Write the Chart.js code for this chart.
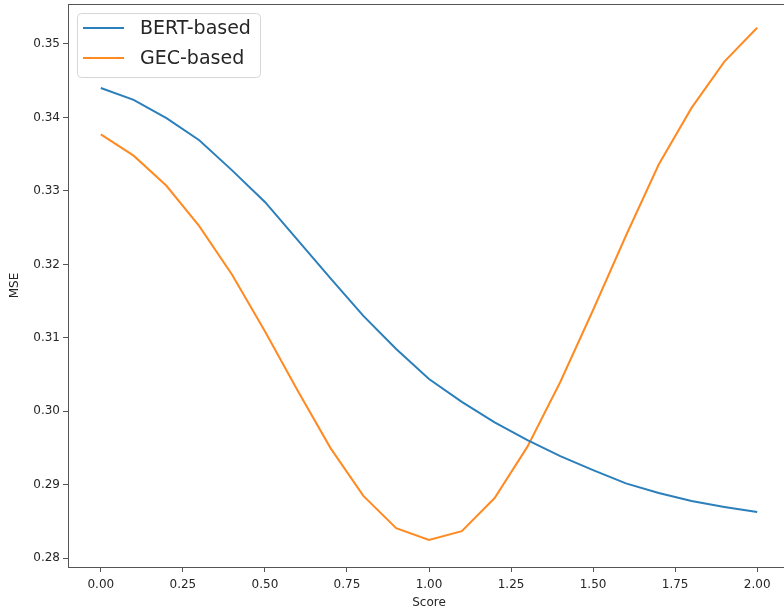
<!DOCTYPE html>
<html>
<head>
<meta charset="utf-8">
<script src="https://cdn.jsdelivr.net/npm/chart.js@4"></script>
<style>
  html, body { margin: 0; padding: 0; background: #fff; overflow: hidden; }
  #wrap { width: 800px; height: 610px; }
</style>
</head>
<body>
<div id="wrap"><canvas id="mseChart" width="800" height="610"></canvas></div>
<script>
// x values (score thresholds)
const scores = [0.0, 0.1, 0.2, 0.3, 0.4, 0.5, 0.6, 0.7, 0.8, 0.9, 1.0,
                1.1, 1.2, 1.3, 1.4, 1.5, 1.6, 1.7, 1.8, 1.9, 2.0];

// MSE per series
const bertMse = [0.3440, 0.3424, 0.3399, 0.3369, 0.3328, 0.3285, 0.3233, 0.3181,
                 0.3130, 0.3085, 0.3044, 0.3013, 0.2985, 0.2961, 0.2939, 0.2920,
                 0.2902, 0.2889, 0.2878, 0.2870, 0.2863];
const gecMse = [0.3377, 0.3348, 0.3307, 0.3252, 0.3186, 0.3109, 0.3028, 0.2950,
                0.2885, 0.2841, 0.2825, 0.2837, 0.2882, 0.2952, 0.3040, 0.3138,
                0.3239, 0.3336, 0.3413, 0.3476, 0.3522];

const xTicks = [0, 0.25, 0.5, 0.75, 1.0, 1.25, 1.5, 1.75, 2.0];
const yTicks = [0.28, 0.29, 0.30, 0.31, 0.32, 0.33, 0.34, 0.35];

const font = 'DejaVu Sans';
const textColor = '#262626';

function toPoints(values) {
    return scores.map(function(s, i) { return { x: s, y: values[i] }; });
}

// frame on all four sides + legend box in the upper left
const framePlugin = {
    id: 'frame',
    afterDraw(chart) {
        const ctx = chart.ctx;
        const a = chart.chartArea;
        ctx.save();
        ctx.strokeStyle = '#555';
        ctx.lineWidth = 1;
        ctx.strokeRect(a.left + 0.5, a.top + 0.5, a.right - a.left, a.bottom - a.top);

        // legend
        const x0 = 77, y0 = 13, w = 183, h = 64, r = 4;
        ctx.fillStyle = 'rgba(255,255,255,0.8)';
        ctx.strokeStyle = '#d6d6d6';
        ctx.beginPath();
        ctx.roundRect(x0 + 0.5, y0 + 0.5, w, h, r);
        ctx.fill();
        ctx.stroke();
        ctx.font = '19px ' + font;
        ctx.textBaseline = 'middle';
        chart.data.datasets.forEach(function(ds, i) {
            const yy = 28 + i * 30;
            ctx.strokeStyle = ds.borderColor;
            ctx.lineWidth = 2;
            ctx.beginPath();
            ctx.moveTo(83, yy);
            ctx.lineTo(124, yy);
            ctx.stroke();
            ctx.fillStyle = textColor;
            ctx.fillText(ds.label, 140, yy + 1);
        });
        ctx.restore();
    }
};

const ctx = document.getElementById('mseChart').getContext('2d');
new Chart(ctx, {
    type: 'line',
    data: {
        datasets: [
            { label: 'BERT-based', data: toPoints(bertMse), borderColor: '#2b7fbb',
              borderWidth: 2, pointRadius: 0, tension: 0, fill: false },
            { label: 'GEC-based', data: toPoints(gecMse), borderColor: '#ff8a22',
              borderWidth: 2, pointRadius: 0, tension: 0, fill: false }
        ]
    },
    options: {
        responsive: false,
        animation: false,
        layout: { padding: { top: 4, right: 10, left: 0, bottom: 0 } },
        plugins: { legend: { display: false }, tooltip: { enabled: false } },
        scales: {
            x: {
                type: 'linear',
                min: -0.1,
                max: 2.1,
                afterBuildTicks(scale) { scale.ticks = xTicks.map(v => ({ value: v })); },
                afterFit(scale) { scale.height = 43; scale.paddingLeft = 0; scale.paddingRight = 0; },
                grid: { drawOnChartArea: false, tickLength: 5, tickColor: '#555' },
                border: { color: '#555' },
                ticks: {
                    color: textColor, font: { family: font, size: 12 }, padding: 6,
                    maxRotation: 0, autoSkip: false,
                    callback: v => v.toFixed(2)
                },
                title: { display: true, text: 'Score', color: textColor,
                         font: { family: font, size: 12 }, padding: { top: 6, bottom: 0 } }
            },
            y: {
                min: 0.27882,
                max: 0.35544,
                afterBuildTicks(scale) { scale.ticks = yTicks.map(v => ({ value: v })); },
                afterFit(scale) { scale.width = 68; scale.paddingTop = 0; scale.paddingBottom = 0; },
                grid: { drawOnChartArea: false, tickLength: 5, tickColor: '#555' },
                border: { color: '#555' },
                ticks: {
                    color: textColor, font: { family: font, size: 12 }, padding: 3,
                    autoSkip: false,
                    callback: v => v.toFixed(2)
                },
                title: { display: true, text: 'MSE', color: textColor,
                         font: { family: font, size: 12 }, padding: { top: 8, bottom: 0 } }
            }
        }
    },
    plugins: [framePlugin]
});
</script>
</body>
</html>
